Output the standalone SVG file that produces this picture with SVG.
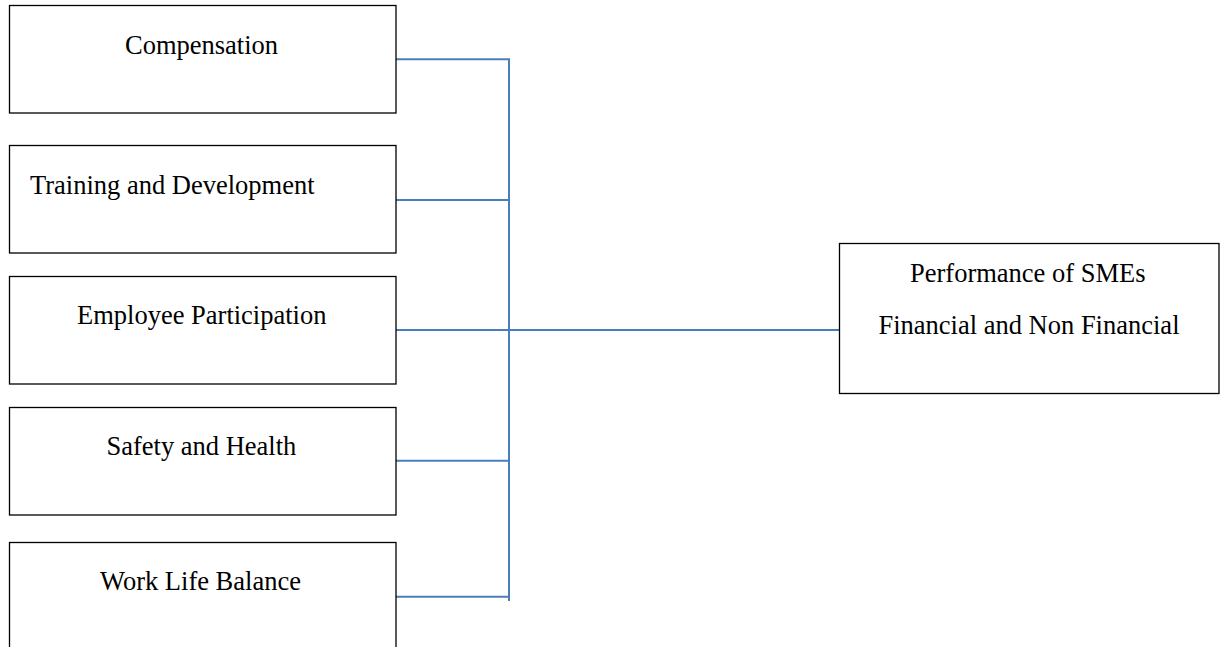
<svg xmlns="http://www.w3.org/2000/svg" width="1222" height="647" viewBox="0 0 1222 647">
<style>
.box{fill:#fff;stroke:#000;stroke-width:1.3}
.t{font-family:"Liberation Serif","Times New Roman",serif;font-size:26.5px;fill:#000}
.c{stroke:#4a7ebb;stroke-width:2;fill:none}
</style>
<rect width="1222" height="647" fill="#fff"/>
<g id="connectors">
<line class="c" x1="509" y1="59.3" x2="509" y2="601"/>
<line class="c" x1="396" y1="59.3" x2="510" y2="59.3"/>
<line class="c" x1="396" y1="200" x2="509" y2="200"/>
<line class="c" x1="396" y1="330" x2="839" y2="330"/>
<line class="c" x1="396" y1="460.7" x2="509" y2="460.7"/>
<line class="c" x1="396" y1="596.7" x2="509" y2="596.7"/>
</g>
<g id="compensation">
<rect class="box" x="9.5" y="5.5" width="386.5" height="107.5"/>
<text class="t" x="125" y="53.5">Compensation</text>
</g>
<g id="training">
<rect class="box" x="9.5" y="145.5" width="386.5" height="107.5"/>
<text class="t" x="30" y="194">Training and Development</text>
</g>
<g id="participation">
<rect class="box" x="9.5" y="276.5" width="386.5" height="107.5"/>
<text class="t" x="77" y="324">Employee Participation</text>
</g>
<g id="safety">
<rect class="box" x="9.5" y="407.5" width="386.5" height="107.5"/>
<text class="t" x="106.5" y="455">Safety and Health</text>
</g>
<g id="worklife">
<rect class="box" x="9.5" y="542.5" width="386.5" height="115"/>
<text class="t" x="100" y="589.5">Work Life Balance</text>
</g>
<g id="performance">
<rect class="box" x="839.5" y="243.5" width="379.5" height="150"/>
<text class="t" x="910" y="281.5">Performance of SMEs</text>
<text class="t" x="878.5" y="333.5">Financial and Non Financial</text>
</g>
</svg>
